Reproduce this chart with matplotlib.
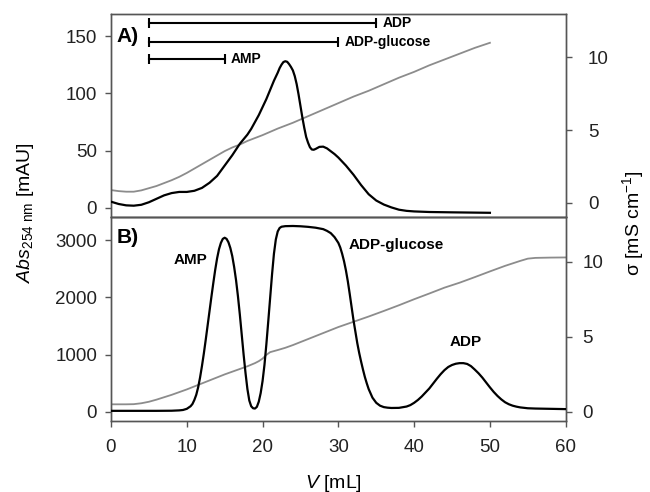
import matplotlib
matplotlib.use("Agg")
import matplotlib.pyplot as plt

plt.rcParams["font.family"] = ["Liberation Sans", "DejaVu Sans"]
plt.rcParams["mathtext.fontset"] = "custom"
plt.rcParams["mathtext.rm"] = "Liberation Sans"
plt.rcParams["mathtext.it"] = "Liberation Sans:italic"

# ---- Panel A: analytical run ----
a_vol = [0, 1, 2, 3, 4, 5, 6, 7, 8, 9, 10, 11, 12, 13, 14, 15, 16, 17, 18, 18.5,
         19, 19.5, 20, 20.5, 21, 21.5, 22, 22.25, 22.5, 22.75, 23, 23.25, 23.5,
         23.75, 24, 24.25, 24.5, 24.75, 25, 25.25, 25.5, 25.75, 26, 26.25, 26.5,
         26.75, 27, 27.5, 28, 28.5, 29, 29.5, 30, 31, 32, 33, 34, 35, 36, 37, 38,
         39, 40, 42, 45, 50]
a_abs = [5.5, 3.5, 2.3, 2.0, 2.8, 5.0, 8.0, 11, 13, 14, 14, 15, 17.5, 22, 28, 37,
         46, 56, 64, 69, 75, 81, 88, 95, 103, 111, 118, 122, 125, 127.3, 128,
         127.5, 125.5, 123, 120, 115, 108, 99, 89, 79, 70, 62, 57, 53, 51, 50.8,
         51.5, 53.3, 53.5, 52, 49.5, 47, 44, 37, 29, 20, 12, 6.5, 3, 0.5, -1.5,
         -2.5, -3, -3.5, -3.8, -4.2]
a_cond_vol = [0, 1, 2, 3, 4, 5, 6, 7, 8, 9, 10, 11, 12, 13, 14, 15, 16, 17, 18, 20,
              22, 24, 26, 28, 30, 32, 34, 36, 38, 40, 42, 44, 46, 48, 50]
a_cond = [0.87, 0.8, 0.76, 0.76, 0.85, 1.0, 1.15, 1.35, 1.55, 1.78, 2.05, 2.35, 2.65,
          2.95, 3.25, 3.55, 3.8, 4.0, 4.25, 4.65, 5.1, 5.5, 5.95, 6.4, 6.85, 7.3,
          7.7, 8.15, 8.6, 9.0, 9.45, 9.85, 10.25, 10.65, 11.0]

# elution windows (start, end, level) for the marked fractions
win_names = ["ADP", "ADP-glucose", "AMP"]
win_start = [5, 5, 5]
win_end = [35, 30, 15]
win_level = [161.7, 145.1, 129.8]

# ---- Panel B: preparative run ----
b_vol = [0, 2, 4, 6, 8, 9, 9.5, 10, 10.5, 10.75, 11, 11.25, 11.5, 11.75, 12,
         12.25, 12.5, 12.75, 13, 13.25, 13.5, 13.75, 14, 14.25, 14.5, 14.75, 15,
         15.25, 15.5, 15.75, 16, 16.25, 16.5, 16.75, 17, 17.25, 17.5, 17.75, 18,
         18.25, 18.5, 18.75, 19, 19.25, 19.5, 19.75, 20, 20.25, 20.5, 20.75, 21,
         21.25, 21.5, 21.75, 22, 22.25, 22.5, 23, 24, 25, 26, 27, 28, 28.5, 29,
         29.5, 30, 30.25, 30.5, 30.75, 31, 31.25, 31.5, 31.75, 32, 32.25, 32.5,
         32.75, 33, 33.25, 33.5, 33.75, 34, 34.5, 35, 35.5, 36, 36.5, 37, 38, 39,
         39.5, 40, 40.5, 41, 41.5, 42, 42.5, 43, 43.5, 44, 44.5, 45, 45.5, 46,
         46.5, 47, 47.5, 48, 48.5, 49, 49.5, 50, 50.5, 51, 51.5, 52, 52.5, 53,
         53.5, 54, 55, 56, 58, 60]
b_abs = [20, 20, 20, 20, 22, 28, 35, 55, 100, 140, 210, 300, 430, 600, 800, 1020,
         1260, 1510, 1760, 2010, 2250, 2480, 2680, 2840, 2950, 3020, 3040, 3020,
         2960, 2860, 2720, 2530, 2300, 2020, 1700, 1350, 1000, 680, 400, 200, 100,
         65, 60, 90, 180, 330, 540, 820, 1180, 1580, 1990, 2400, 2760, 3010, 3150,
         3210, 3232, 3242, 3245, 3240, 3230, 3215, 3190, 3160, 3120, 3050, 2950,
         2870, 2760, 2630, 2470, 2280, 2060, 1830, 1600, 1400, 1200, 1030, 880,
         740, 610, 500, 400, 250, 160, 110, 85, 75, 70, 72, 95, 120, 160, 210,
         270, 340, 410, 495, 580, 660, 730, 785, 820, 842, 852, 852, 838, 800,
         740, 675, 600, 515, 430, 350, 280, 220, 170, 135, 110, 93, 80, 65, 60,
         55, 50]
b_cond_vol = [0, 2, 3, 4, 5, 6, 7, 8, 9, 10, 11, 12, 13, 14, 15, 16, 17, 18, 19,
              19.5, 20, 20.5, 21, 22, 23, 24, 25, 26, 27, 28, 29, 30, 32, 34, 36,
              38, 40, 42, 44, 46, 48, 50, 52, 54, 55, 56, 58, 60]
b_cond = [0.51, 0.51, 0.52, 0.58, 0.68, 0.82, 0.98, 1.14, 1.32, 1.5, 1.7, 1.9, 2.1,
          2.3, 2.5, 2.68, 2.86, 3.04, 3.25, 3.38, 3.55, 3.8, 3.98, 4.12, 4.27,
          4.45, 4.65, 4.85, 5.05, 5.25, 5.45, 5.65, 6.0, 6.35, 6.72, 7.1, 7.5,
          7.88, 8.27, 8.6, 8.97, 9.35, 9.72, 10.05, 10.2, 10.25, 10.27, 10.28]

peak_names = ["AMP", "ADP-glucose", "ADP"]
peak_x = [10.5, 37.6, 46.8]
peak_y = [2660, 2905, 1213]

x_ticks = [0, 10, 20, 30, 40, 50, 60]

W, H = 650, 492
fig = plt.figure(figsize=(W / 100, H / 100), dpi=100)

left, right = 111 / W, 565.7 / W
yA_top, yA_bot = 1 - 14 / H, 1 - 216.7 / H
yB_bot = 1 - 420.7 / H

axA = fig.add_axes([left, yA_bot, right - left, yA_top - yA_bot])
axB = fig.add_axes([left, yB_bot, right - left, yA_bot - yB_bot])
axA2 = axA.twinx()
axB2 = axB.twinx()

spine_col = "#555555"
tick_fs = 13.5
black_lw = 1.6
gray_col = "#8c8c8c"

for ax in (axA, axB, axA2, axB2):
    for s in ax.spines.values():
        s.set_color(spine_col)
        s.set_linewidth(1.0)
    ax.set_xlim(0, 60)
    ax.tick_params(colors="#222222", labelsize=tick_fs, length=4, width=1,
                   direction="out")
    ax.tick_params(axis="both", color=spine_col)

# panel A
axA2.plot(a_cond_vol, a_cond, color=gray_col, lw=1.3, zorder=1)
axA.plot(a_vol, a_abs, color="black", lw=black_lw, zorder=3)
axA.set_zorder(axA2.get_zorder() + 1)
axA.patch.set_visible(False)
axA.set_ylim(-7.6, 169.2)
axA.set_yticks([0, 50, 100, 150])
axA2.set_ylim(-0.96, 12.98)
axA2.set_yticks([0, 5, 10])
axA.set_xticks([])
axA2.set_xticks([])
axA.tick_params(axis="y", pad=6)
axA2.tick_params(axis="y", pad=12)

for name, s, e, lvl in zip(win_names, win_start, win_end, win_level):
    axA.plot([s, e], [lvl, lvl], color="black", lw=1.5,
             marker="|", markersize=7, markeredgewidth=1.5)
    axA.text(e + 0.8, lvl, name, fontsize=10, fontweight="bold",
             ha="left", va="center")
axA.text(0.012, 0.935, "A)", transform=axA.transAxes, fontsize=15,
         fontweight="bold", ha="left", va="top")

# panel B
axB2.plot(b_cond_vol, b_cond, color=gray_col, lw=1.3, zorder=1)
axB.plot(b_vol, b_abs, color="black", lw=black_lw, zorder=3)
axB.set_zorder(axB2.get_zorder() + 1)
axB.patch.set_visible(False)
axB.set_ylim(-152, 3407)
axB.set_yticks([0, 1000, 2000, 3000])
axB2.set_ylim(-0.58, 12.99)
axB2.set_yticks([0, 5, 10])
axB.set_xticks(x_ticks)
axB.tick_params(axis="x", pad=9.5)
axB.tick_params(axis="y", pad=6)
axB2.tick_params(axis="y", pad=8)

for name, px, py in zip(peak_names, peak_x, peak_y):
    axB.text(px, py, name, fontsize=11, fontweight="bold",
             ha="center", va="center")
axB.text(0.012, 0.945, "B)", transform=axB.transAxes, fontsize=15,
         fontweight="bold", ha="left", va="top")

# axis titles
fig.text(26 / W, 1 - 213 / H, r"$\mathit{Abs}_{\mathrm{254\ nm}}$ [mAU]",
         rotation=90, ha="center", va="center", fontsize=14)
fig.text(633 / W, 1 - 223 / H, r"σ [mS cm$^{-1}$]",
         rotation=90, ha="center", va="center", fontsize=14)
fig.text(333 / W, 1 - 483 / H, r"$\mathit{V}$ [mL]",
         ha="center", va="center", fontsize=14)

fig.savefig("out.png", dpi=100)
